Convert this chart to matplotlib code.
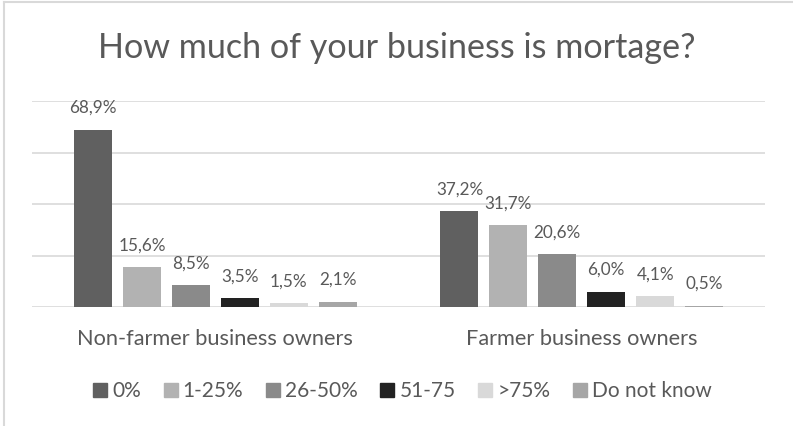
import matplotlib.pyplot as plt
import numpy as np
from matplotlib.lines import Line2D

plt.rcParams['font.family'] = ['Lato', 'DejaVu Sans']

groups = ["Non-farmer business owners", "Farmer business owners"]
series = ["0%", "1-25%", "26-50%", "51-75", ">75%", "Do not know"]
values = [
    [68.9, 37.2],
    [15.6, 31.7],
    [8.5, 20.6],
    [3.5, 6.0],
    [1.5, 4.1],
    [2.1, 0.5],
]
value_labels = [
    ["68,9%", "37,2%"],
    ["15,6%", "31,7%"],
    ["8,5%", "20,6%"],
    ["3,5%", "6,0%"],
    ["1,5%", "4,1%"],
    ["2,1%", "0,5%"],
]
colors = ["#606060", "#b2b2b2", "#8a8a8a", "#222222", "#d9d9d9", "#a6a6a6"]

text_color = "#595959"
grid_color = "#d9d9d9"

fig = plt.figure(figsize=(7.93, 4.26), dpi=100)
ax = fig.add_axes([0.0404, 0.2793, 0.9243, 0.4836])

x = np.arange(len(groups))
pitch = 0.1335
width = 0.1037

for i, (name, vals, labels, color) in enumerate(zip(series, values, value_labels, colors)):
    pos = x + (i - 2.5) * pitch
    ax.bar(pos, vals, width=width, color=color, zorder=3)
    for px, v, lab in zip(pos, vals, labels):
        ax.annotate(lab, (px, v), xytext=(0, 12), textcoords="offset points",
                    ha="center", va="baseline", fontsize=12.3, color=text_color)

ax.set_xlim(-0.5, 1.5)
ax.set_ylim(0, 80)
ax.set_yticks([0, 20, 40, 60, 80])
ax.yaxis.grid(True, color=grid_color, linewidth=1.2, zorder=0)
ax.tick_params(left=False, bottom=False, labelleft=False, labelbottom=False)
for side in ["top", "right", "left", "bottom"]:
    ax.spines[side].set_visible(False)

# category names under each group
for xi, g in zip(x, groups):
    ax.annotate(g, (xi, 0), xycoords=("data", "axes fraction"),
                xytext=(0, -27.4), textcoords="offset points",
                ha="center", va="baseline", fontsize=15.7, color=text_color)

fig.text(0.5, 1 - 58 / 426, "How much of your business is mortage?",
         ha="center", va="baseline", fontsize=24.6, color=text_color)

handles = [Line2D([], [], marker="s", linestyle="none", markersize=10,
                  markerfacecolor=c, markeredgecolor=c) for c in colors]
fig.legend(handles, series, loc="center", bbox_to_anchor=(0.507, 1 - 391 / 426),
           ncol=6, frameon=False, fontsize=15, labelcolor=text_color,
           handlelength=0.75, handletextpad=0.2, columnspacing=1.05)

# chart frame edges
fig.add_artist(Line2D([3.5 / 793, 3.5 / 793], [0, 1 - 2 / 426], color=grid_color, linewidth=1.5))
fig.add_artist(Line2D([3.5 / 793, 1], [1 - 2 / 426, 1 - 2 / 426], color=grid_color, linewidth=1.5))

fig.savefig("out.png", dpi=100)
